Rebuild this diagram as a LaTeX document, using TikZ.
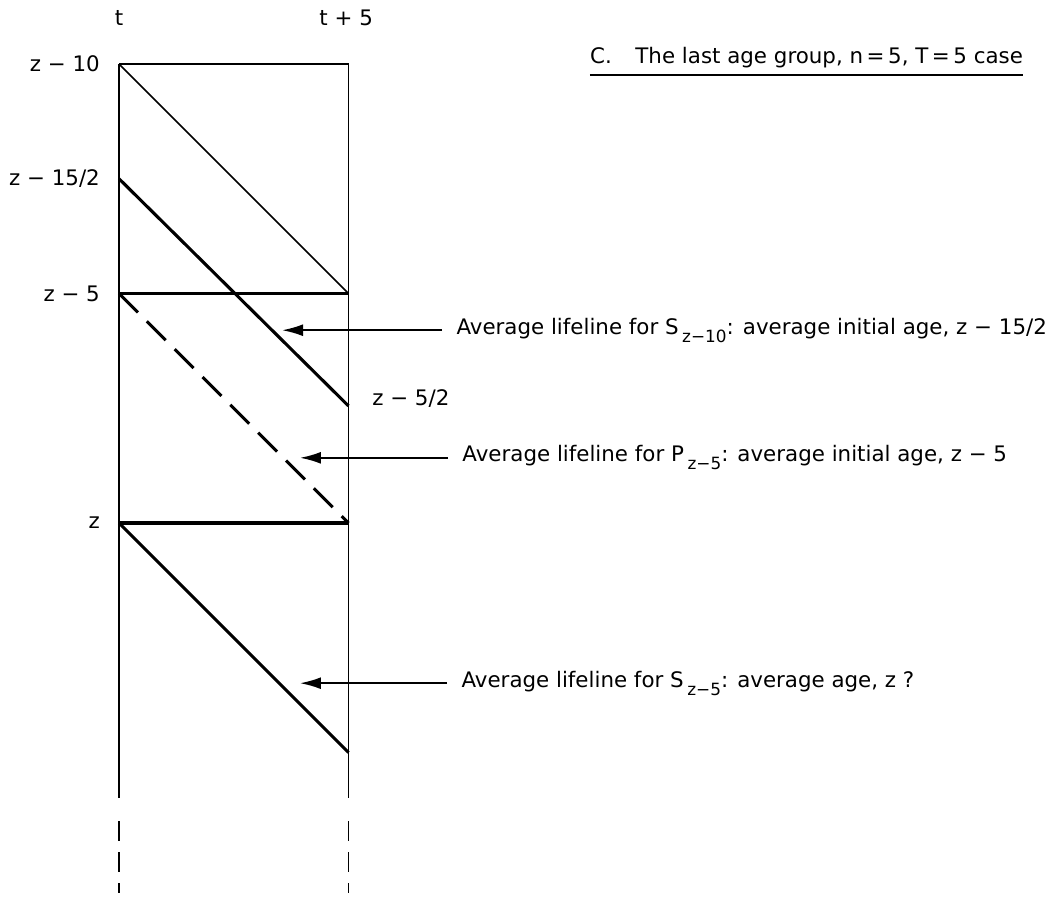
\documentclass[tikz,border=0pt]{standalone}
\usepackage{fontspec}
\setmainfont{DejaVu Sans}
\usetikzlibrary{arrows.meta}

% lowered subscript as in the typed original
\newcommand{\lowsub}[1]{\,\raisebox{-0.7ex}{\fontsize{12}{12}\selectfont #1}}

\begin{document}
\begin{tikzpicture}[
    x=1.1475cm, y=1.1475cm, font=\fontsize{15.2}{18}\selectfont,
    frame/.style={line width=1pt},
    life/.style={line width=2.2pt},
    thinlife/.style={line width=1.1pt},
    tick/.style={inner sep=3pt},
    note/.style={anchor=west, inner xsep=10pt, inner ysep=2pt},
    link/.style={-{Latex[length=15pt, width=8.5pt]}, line width=1.4pt}
]
    \useasboundingbox (-2.593,1.394) rectangle (20.457,-18.192);

    % corners of the age-time box
    \coordinate (t0)  at (0,0);
    \coordinate (t5)  at (5,0);
    \coordinate (l25) at (0,-2.5);
    \coordinate (r75) at (5,-7.45);
    \coordinate (l5)  at (0,-5);
    \coordinate (r5)  at (5,-5);
    \coordinate (l10) at (0,-10);
    \coordinate (r10) at (5,-10);
    \coordinate (r15) at (5,-15);
    \coordinate (lb)  at (0,-16);
    \coordinate (rb)  at (5,-16);

    % time and age labels
    \node[tick] (tl) at (0,1.0) {t};
    \node[tick] (tr) at (4.95,1.0) {t + 5};
    \node[tick, anchor=east] (z10) at (-0.32,0)    {z − 10};
    \node[tick, anchor=east] (z15) at (-0.32,-2.5) {z − 15/2};
    \node[tick, anchor=east] (z5)  at (-0.32,-5)   {z − 5};
    \node[tick, anchor=east] (z0)  at (-0.32,-10)  {z};
    \node[tick, anchor=west] (z25) at (5.42,-7.28) {z − 5/2};

    % title
    \node[anchor=south west, inner xsep=0pt, inner ysep=5pt] (title) at (10.26,-0.24)
        {C.\hspace{1.1em}The last age group, n\,=\,5, T\,=\,5 case};
    \draw[line width=1.2pt] (title.south west) -- (title.south east);

    % box
    \draw[line width=1.4pt] (t0) -- (lb);
    \draw[frame] (t5) -- (rb);
    \draw[frame, dash pattern=on 14pt off 8pt] (0,-16.5) -- (0,-18.05);
    \draw[frame, dash pattern=on 14pt off 8pt] (5,-16.5) -- (5,-18.05);
    \draw[line width=1.5pt] (t0) -- (t5);
    \draw[life] (l5) -- (r5);
    \draw[life] (l10) -- (r10);

    % lifelines
    \draw[thinlife] (t0) -- (r5);
    \draw[life] (l25) -- (r75);
    \draw[life, dash pattern=on 19pt off 9pt] (l5) -- (r10);
    \draw[life] (l10) -- (r15);

    % notes
    \coordinate (a1) at (3.55,-5.8);
    \coordinate (a2) at (3.94,-8.58);
    \coordinate (a3) at (3.94,-13.49);
    \node[note] (n1) at (7.04,-5.8)   {Average lifeline for S\lowsub{z−10}: average initial age, z − 15/2};
    \node[note] (n2) at (7.17,-8.58)  {Average lifeline for P\lowsub{z−5}: average initial age, z − 5};
    \node[note] (n3) at (7.15,-13.49) {Average lifeline for S\lowsub{z−5}: average age, z ?};
    \draw[link] (n1.west) -- (a1);
    \draw[link] (n2.west) -- (a2);
    \draw[link] (n3.west) -- (a3);
\end{tikzpicture}
\end{document}
